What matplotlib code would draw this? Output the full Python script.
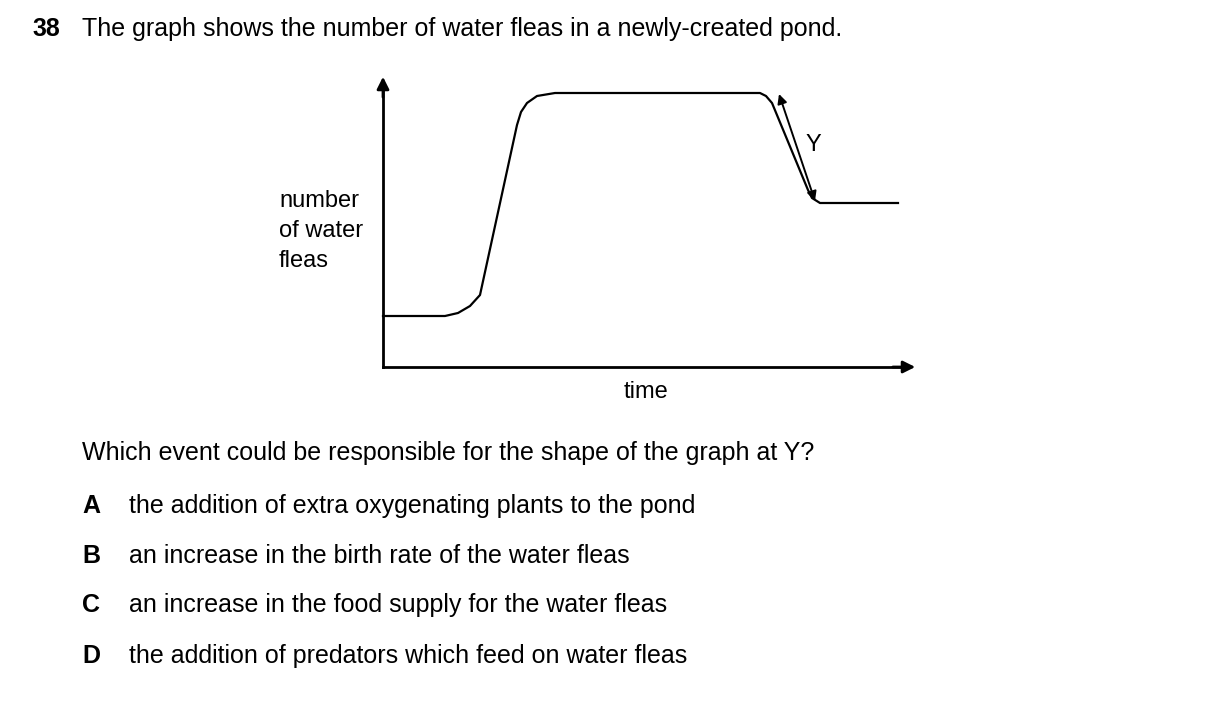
import matplotlib.pyplot as plt

plt.rcParams['font.family'] = ['Liberation Sans', 'DejaVu Sans']

# curve (pixel units, y down)
curve_t = [383, 445, 458, 470, 480, 517, 521, 527, 537, 555, 760, 766, 772, 808, 812, 820, 898]
curve_n = [316, 316, 313, 306, 295, 125, 112, 103, 96, 93, 93, 96, 103, 190, 198, 203, 203]

question = "The graph shows the number of water fleas in a newly-created pond."
prompt = "Which event could be responsible for the shape of the graph at Y?"
letters = ["A", "B", "C", "D"]
answers = [
    "the addition of extra oxygenating plants to the pond",
    "an increase in the birth rate of the water fleas",
    "an increase in the food supply for the water fleas",
    "the addition of predators which feed on water fleas",
]
answer_y = [506, 556, 605, 656]

fig = plt.figure(figsize=(12.09, 7.2), dpi=100)
ax = fig.add_axes([0, 0, 1, 1])
ax.set_xlim(0, 1209)
ax.set_ylim(720, 0)
ax.axis('off')

fs = 18
ax.text(32, 29, "38", fontsize=fs, fontweight='bold', va='center')
ax.text(82, 29, question, fontsize=fs, va='center')

# axes of the sketch graph
ax.plot([383, 383], [367, 88], color='black', lw=2)
ax.plot([383, 905], [367, 367], color='black', lw=2)
ax.annotate("", xy=(383, 74), xytext=(383, 100),
            arrowprops=dict(arrowstyle='-|>', color='black', lw=2, mutation_scale=18))
ax.annotate("", xy=(918, 367), xytext=(890, 367),
            arrowprops=dict(arrowstyle='-|>', color='black', lw=2, mutation_scale=18))

ax.plot(curve_t, curve_n, color='black', lw=1.6, solid_joinstyle='round')

# double arrow Y
ax.annotate("", xy=(779, 94), xytext=(815, 201),
            arrowprops=dict(arrowstyle='<|-|>', color='black', lw=1.4, mutation_scale=14,
                            shrinkA=0, shrinkB=0))
ax.text(813, 145, "Y", fontsize=17, ha='center', va='center')

for i, s in enumerate(["number", "of water", "fleas"]):
    ax.text(279, 201 + 30 * i, s, fontsize=17, va='center')
ax.text(646, 392, "time", fontsize=17, ha='center', va='center')

ax.text(82, 453, prompt, fontsize=fs, va='center')
for L, a, y in zip(letters, answers, answer_y):
    ax.text(82, y, L, fontsize=fs, fontweight='bold', va='center')
    ax.text(129, y, a, fontsize=fs, va='center')

fig.savefig("out.png", dpi=100)
